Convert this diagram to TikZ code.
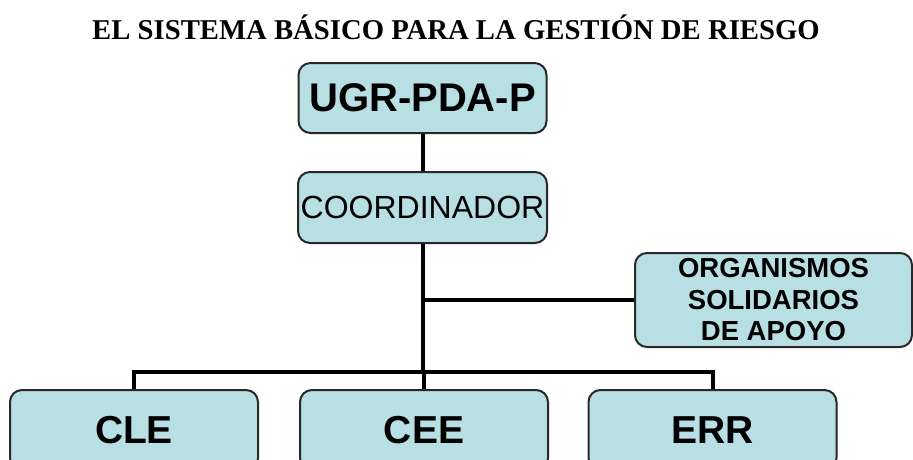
\documentclass[tikz,border=0pt]{standalone}
\usepackage{fontspec}
\setmainfont{Liberation Sans}
\newfontfamily\titlefont{Liberation Serif}
\usetikzlibrary{positioning}
\definecolor{boxfill}{RGB}{184,224,228}
\definecolor{boxline}{RGB}{40,40,40}

\begin{document}
\begin{tikzpicture}
    [x=1pt, y=-1pt,
    unit/.style={rounded corners=12pt, fill=boxfill, draw=boxline, line width=2pt, inner sep=0pt, align=center},
    link/.style={line width=4pt, black}]
     \clip (0,0) rectangle (913,459);
     \node[font=\titlefont\bfseries\fontsize{28.7}{31}\selectfont] (title) at (456, 27) {EL SISTEMA BÁSICO PARA LA GESTIÓN DE RIESGO};
     \node[unit, minimum width=248pt, minimum height=70pt, font=\bfseries\fontsize{40}{44}\selectfont] (ugr) at (422.5, 98) {UGR-PDA-P};
     \node[unit, minimum width=249pt, minimum height=71pt, font=\fontsize{32}{35}\selectfont] (coord) at (422.5, 207.5) {COORDINADOR};
     \node[unit, minimum width=277pt, minimum height=94pt, font=\bfseries\fontsize{27.5}{31.5}\selectfont] (org) at (773.5, 300) {ORGANISMOS\\SOLIDARIOS\\DE APOYO};
     \node[unit, minimum width=248pt, minimum height=80pt, font=\bfseries\fontsize{39}{42}\selectfont] (cle) at (134, 430) {CLE};
     \node[unit, minimum width=248pt, minimum height=80pt, font=\bfseries\fontsize{39}{42}\selectfont] (cee) at (424, 430) {CEE};
     \node[unit, minimum width=248pt, minimum height=80pt, font=\bfseries\fontsize{39}{42}\selectfont] (err) at (712.5, 430) {ERR};
     \coordinate (bar) at (423, 372);
     \draw[link] (ugr) -- (coord);
     \draw[link] (coord.south) -- (coord.south |- bar);
     \draw[link] (coord.south |- org.west) -- (org.west);
     \draw[link] (cle.north) |- (bar) -| (err.north);
     \draw[link] (cee.north) -- (cee.north |- bar);
\end{tikzpicture}
\end{document}
